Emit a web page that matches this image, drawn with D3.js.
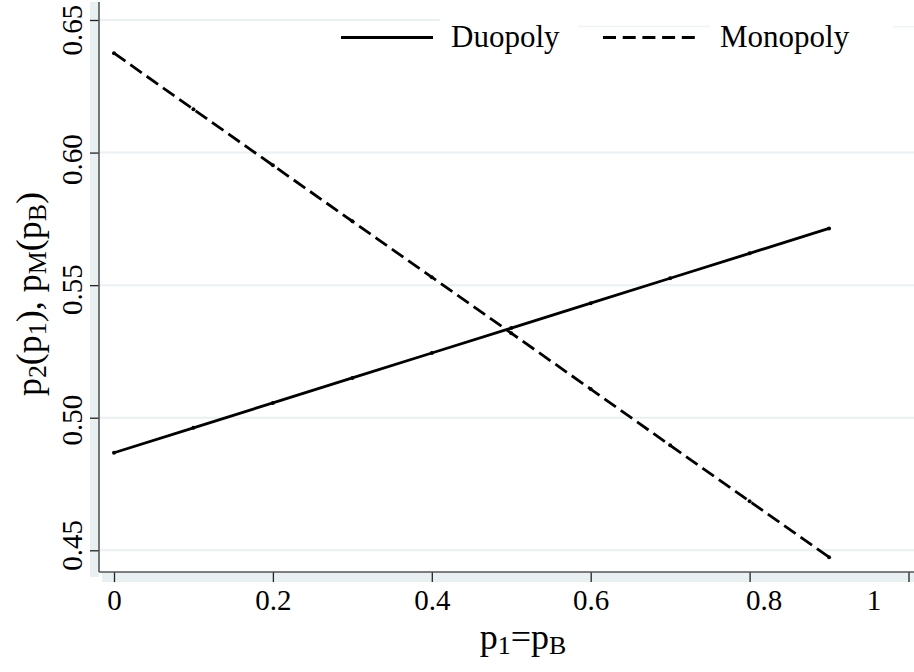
<!DOCTYPE html>
<html>
<head>
<meta charset="utf-8">
<script src="https://cdn.jsdelivr.net/npm/d3@7/dist/d3.min.js"></script>
<style>
  html, body { margin: 0; padding: 0; background: #ffffff; }
  svg { display: block; }
  text { font-family: "Liberation Serif", "Times New Roman", serif; fill: #000; }
</style>
</head>
<body>
<svg id="chart" width="914" height="672"></svg>
<script>
// ---- data ----
const pValues   = [0, 0.1, 0.2, 0.3, 0.4, 0.5, 0.6, 0.7, 0.8, 0.9];
const duopoly   = [0.4868, 0.4962, 0.5056, 0.5150, 0.5244, 0.5338, 0.5432, 0.5526, 0.5620, 0.5714];
const monopoly  = [0.6375, 0.6163, 0.5952, 0.5741, 0.5530, 0.5319, 0.5108, 0.4896, 0.4685, 0.4474];
const seriesNames = ["Duopoly", "Monopoly"];
const xTicks = [0, 0.2, 0.4, 0.6, 0.8, 1];
const yTicks = [0.45, 0.50, 0.55, 0.60, 0.65];

// ---- layout / style ----
const W = 914, H = 672;
const axisX = 99, axisY = 572;
const gridColor = "#e9f1f3";
const stripColor = "#e8f0f2";
const svg = d3.select("#chart");

const x = d3.scaleLinear().domain([0, 1]).range([114, 908.5]);
const y = d3.scaleLinear().domain([0.45, 0.65]).range([550.3, 20]);

// axis background strips
svg.append("rect").attr("x", 90).attr("y", 2).attr("width", axisX - 90).attr("height", 577 - 2).attr("fill", stripColor);
svg.append("rect").attr("x", 102).attr("y", axisY).attr("width", W - 102).attr("height", 10).attr("fill", stripColor);

// gridlines
svg.append("g").selectAll("line").data(yTicks).join("line")
  .attr("x1", axisX).attr("x2", d => d === 0.65 ? 440 : W)
  .attr("y1", d => y(d)).attr("y2", d => y(d))
  .attr("stroke", gridColor).attr("stroke-width", 2);
// faint legend-box edge artifacts
[[578, 710], [893, W]].forEach(s => {
  svg.append("line").attr("x1", s[0]).attr("x2", s[1]).attr("y1", 26.6).attr("y2", 26.6)
    .attr("stroke", "#edf3f4").attr("stroke-width", 1.5);
});

// y axis
const yAxis = d3.axisLeft(y).tickValues(yTicks).tickSize(9).tickFormat(d3.format(".2f"));
const gy = svg.append("g").attr("transform", `translate(${axisX},0)`).call(yAxis);
gy.select(".domain").remove();
gy.selectAll(".tick line").attr("stroke", "#222").attr("stroke-width", 1.3);
const yNudge = {"0.65": 9.5, "0.60": 6.5, "0.55": 4, "0.50": 2, "0.45": -5.5};
gy.selectAll(".tick text")
  .attr("transform", "rotate(-90)")
  .attr("text-anchor", "middle")
  .attr("dy", 0)
  .attr("y", -17)
  .attr("x", d => -(yNudge[d3.format(".2f")(d)] || 0))
  .style("font-size", "29px")
  .style("font-family", "'Liberation Serif', serif")
  .attr("fill", "#000");
svg.append("line").attr("x1", axisX).attr("x2", axisX).attr("y1", 2).attr("y2", axisY)
  .attr("stroke", "#555").attr("stroke-width", 1.6);

// x axis
const xAxis = d3.axisBottom(x).tickValues(xTicks).tickSize(10).tickFormat(d3.format("~g"));
const gx = svg.append("g").attr("transform", `translate(0,${axisY})`).call(xAxis);
gx.select(".domain").remove();
gx.selectAll(".tick line").attr("stroke", "#222").attr("stroke-width", 1.3);
const xNudge = {"0.8": 14, "1": -35};
gx.selectAll(".tick text")
  .attr("y", 38).attr("dy", 0)
  .attr("x", d => xNudge[d3.format("~g")(d)] || 0)
  .style("font-size", "29px")
  .style("font-family", "'Liberation Serif', serif")
  .attr("fill", "#000");
svg.append("line").attr("x1", axisX).attr("x2", W).attr("y1", axisY).attr("y2", axisY)
  .attr("stroke", "#555").attr("stroke-width", 1.6);

// series
const line = d3.line().x((d, i) => x(pValues[i])).y(d => y(d));
svg.append("path").datum(duopoly).attr("d", line)
  .attr("fill", "none").attr("stroke", "#000").attr("stroke-width", 2.8);
svg.append("path").datum(monopoly).attr("d", line)
  .attr("fill", "none").attr("stroke", "#000").attr("stroke-width", 2.8)
  .attr("stroke-dasharray", "14,6");
[duopoly, monopoly].forEach(s => {
  svg.append("g").selectAll("circle").data(s).join("circle")
    .attr("cx", (d, i) => x(pValues[i])).attr("cy", d => y(d)).attr("r", 2).attr("fill", "#000");
});

// legend
const lg = svg.append("g");
lg.append("line").attr("x1", 341).attr("x2", 433).attr("y1", 37.5).attr("y2", 37.5)
  .attr("stroke", "#000").attr("stroke-width", 2.8);
lg.append("text").attr("x", 451).attr("y", 47).style("font-size", "31px").text(seriesNames[0]);
lg.append("line").attr("x1", 603).attr("x2", 695).attr("y1", 37.5).attr("y2", 37.5)
  .attr("stroke", "#000").attr("stroke-width", 2.8).attr("stroke-dasharray", "13,6.7");
lg.append("text").attr("x", 720).attr("y", 47).style("font-size", "31px").text(seriesNames[1]);

// titles with subscripts
function subText(sel, parts, size) {
  const t = sel.style("font-size", size + "px");
  let shifted = false;
  parts.forEach(([str, sub]) => {
    const ts = t.append("tspan").text(str);
    if (sub && !shifted) { ts.attr("dy", size * 0.13); shifted = true; }
    else if (!sub && shifted) { ts.attr("dy", -size * 0.13); shifted = false; }
    if (sub) ts.style("font-size", (size * 0.72) + "px");
  });
  return t;
}
subText(svg.append("text").attr("x", 523).attr("y", 649).attr("text-anchor", "middle"),
  [["p", false], ["1", true], ["=p", false], ["B", true]], 36);
subText(svg.append("text").attr("transform", "translate(41,294) rotate(-90)").attr("text-anchor", "middle"),
  [["p", false], ["2", true], ["(p", false], ["1", true], ["), p", false], ["M", true], ["(p", false], ["B", true], [")", false]], 36);
</script>
</body>
</html>
